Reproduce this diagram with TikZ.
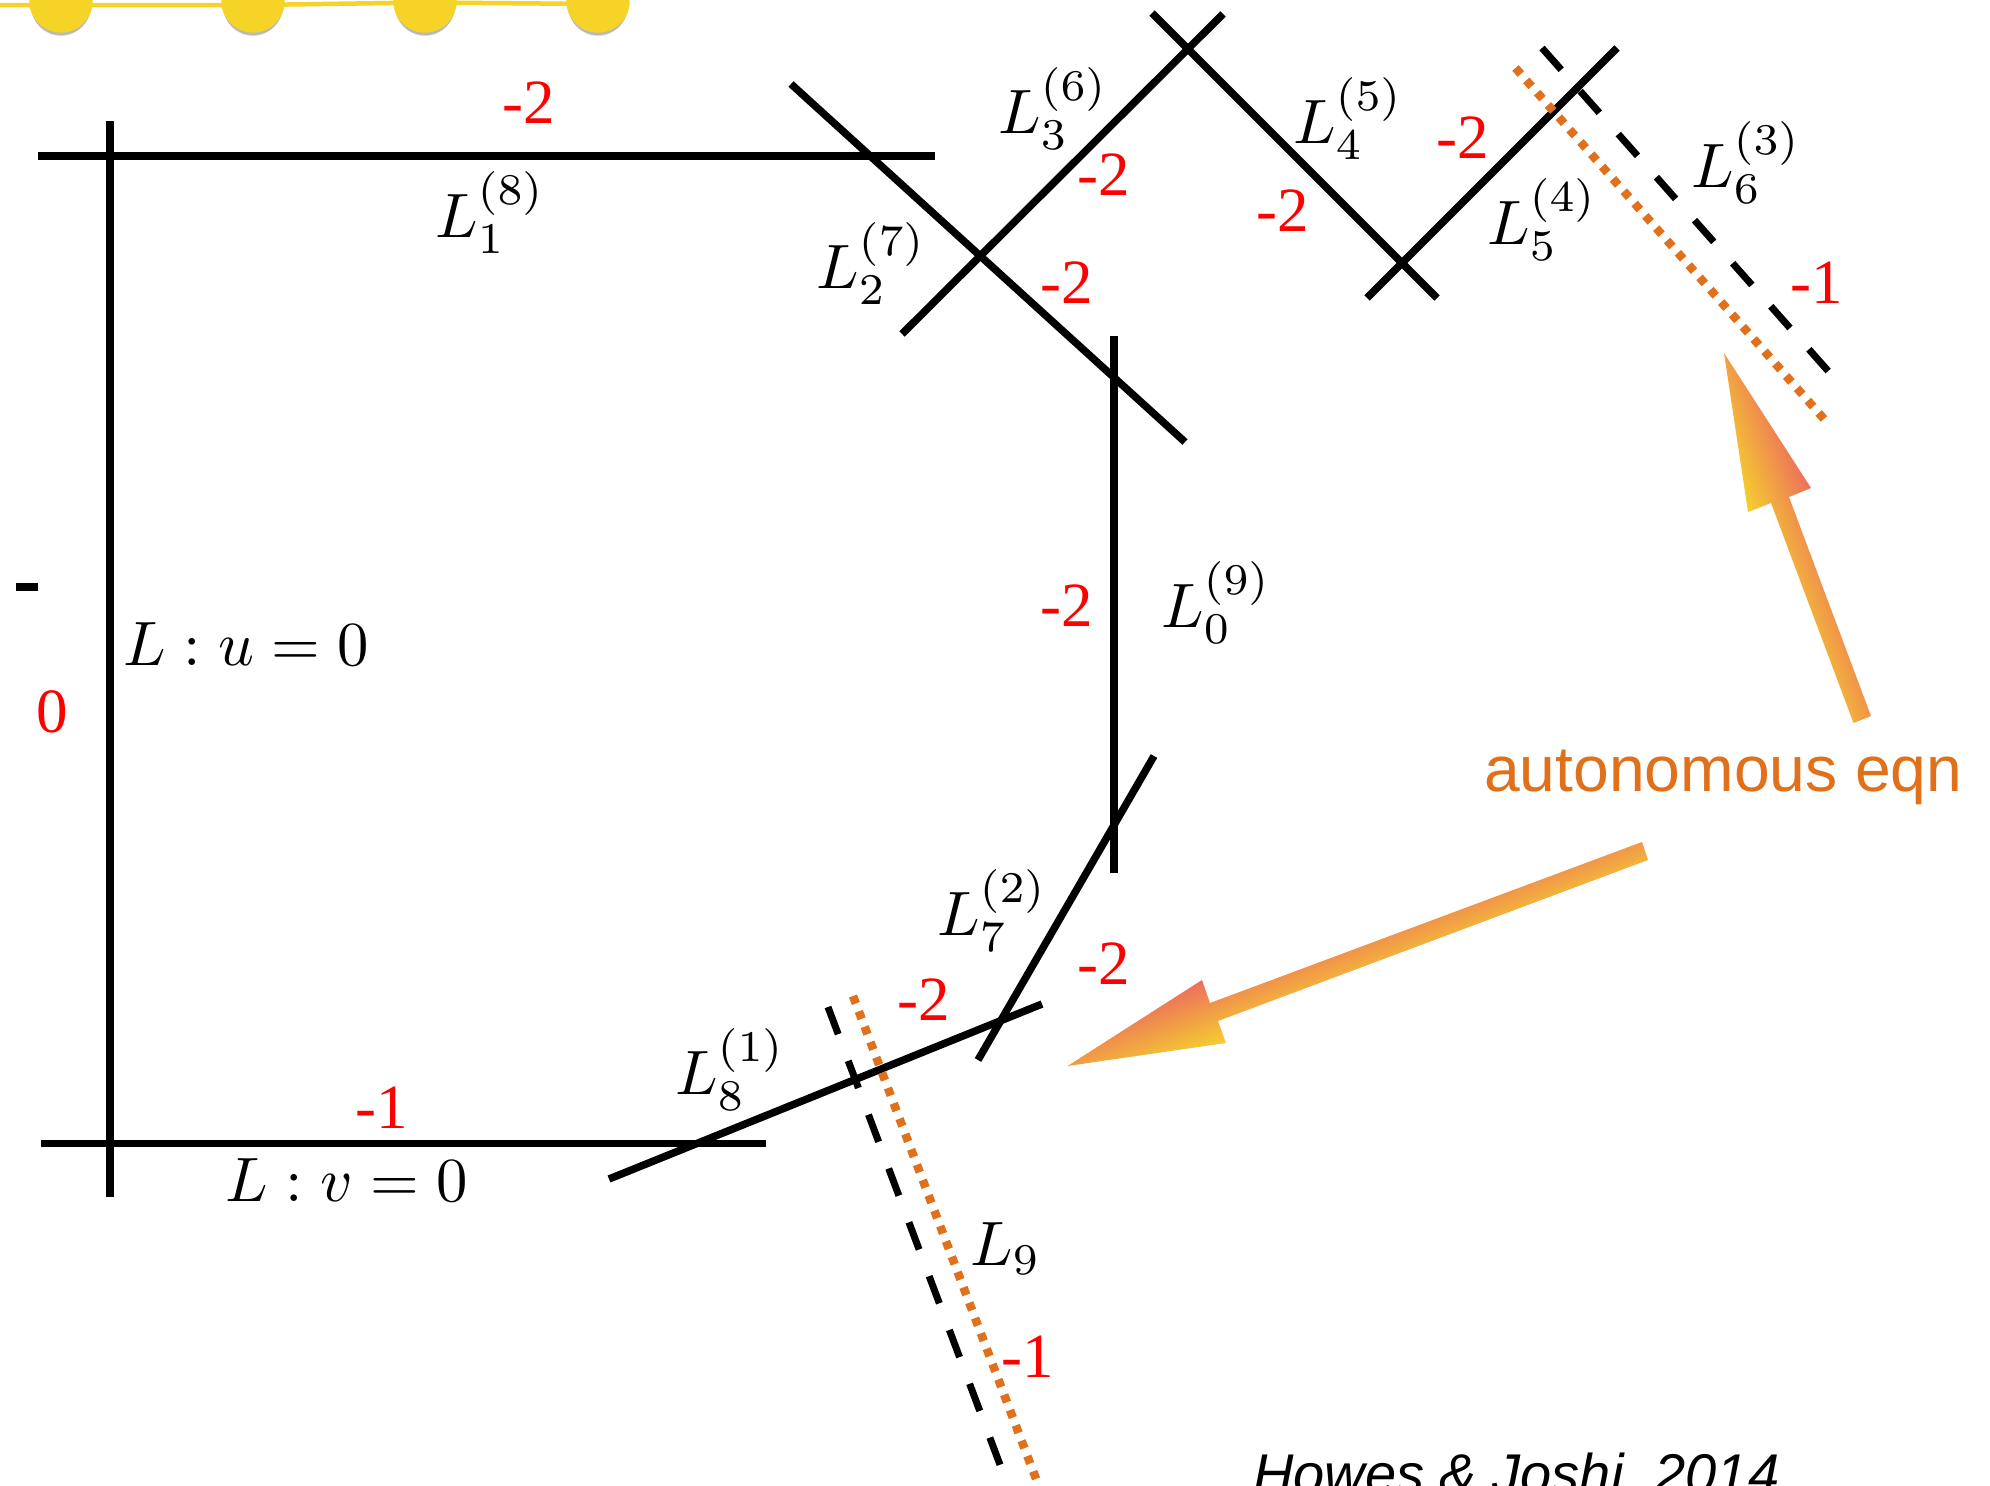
\documentclass[tikz,border=0pt]{standalone}
\usepackage[no-math]{fontspec}
\newfontfamily\numfont{Liberation Serif}
\newfontfamily\labfont{Liberation Sans}
\definecolor{autoorange}{HTML}{E0701A}
\definecolor{beadyellow}{HTML}{F5D327}
\definecolor{gradred}{HTML}{ED6F5C}
\definecolor{gradmid}{HTML}{F09F42}
\definecolor{gradyellow}{HTML}{F5D02E}
\tikzset{
  solidline/.style={line width=7.5pt,black},
  dashline/.style={line width=7pt,black,dash pattern=on 29pt off 28.5pt},
  dotline/.style={line width=8.5pt,autoorange,dash pattern=on 8pt off 8.4pt},
  mathlab/.style={inner sep=0pt,anchor=base west,scale=6.27},
  numlab/.style={inner sep=0pt,anchor=base,text=red,font=\numfont\fontsize{63}{70}\selectfont},
  bead/.style={fill=beadyellow,draw=none},
  beadshadow/.style={fill=black,fill opacity=0.1,draw=none},
}
\begin{document}
\begin{tikzpicture}[x=1pt,y=-1pt]
\clip (0,0) rectangle (1990,1486);
\fill[white] (0,0) rectangle (1990,1486);
% beads
\foreach \bx in {61,253,425,598}{
  \foreach \off/\rr in {5.5/29.5,4.5/30,3.5/30.5}{
    \fill[beadshadow] (\bx,1+\off) circle[radius=\rr];}
}
\draw[beadyellow,line width=4.5pt] (0,5) -- (61,5) -- (253,5) -- (425,2.5) -- (598,4);
\foreach \bx in {61,253,425,598}{\fill[bead] (\bx,1) circle[radius=31.7];}
% solid lines
\draw[solidline] (110,121) -- (110,1197);
\draw[solidline] (38,156) -- (935,156);
\draw[solidline] (41,1143.5) -- (766,1143.5);
\draw[solidline] (791,84) -- (1185,442);
\draw[solidline] (902,334) -- (1223,14);
\draw[solidline] (1152,13) -- (1437,298);
\draw[solidline] (1367,298) -- (1617,48);
\draw[solidline] (1114,336) -- (1114,873);
\draw[solidline] (1154,756) -- (978,1060);
\draw[solidline] (1042,1004) -- (609,1179);
% dashed and dotted
\draw[dashline] (1542,48) -- (1829,372);
\draw[dotline] (1515.5,68) -- (1824,419);
\draw[dashline] (828,1007) -- (1002,1470);
\draw[dotline] (853,996) -- (1038,1484);
% the small dash on the left
\fill[black] (16,583) rectangle (38,591);
% up arrow
\begin{scope}
\clip (1724,353) -- (1811,488) -- (1789,497) -- (1871,716) -- (1853.5,723) -- (1771,503) -- (1748,512) -- cycle;
\begin{scope}[transform canvas={shift={(1779.5,500)},rotate=-69}]
\shade[top color=gradred,middle color=gradmid,bottom color=gradyellow] (-300,-33.7) rectangle (300,33.7);
\end{scope}
\end{scope}
% left arrow
\begin{scope}
\clip (1067.5,1066) -- (1202,980) -- (1210,1003) -- (1642,842) -- (1648,860) -- (1218,1021) -- (1226,1043) -- cycle;
\begin{scope}[transform canvas={shift={(1214,1011.5)},rotate=21}]
\shade[top color=gradred,middle color=gradmid,bottom color=gradyellow] (-500,-33.7) rectangle (500,33.7);
\end{scope}
\end{scope}
% math labels
\node[mathlab] (l1) at (434,237) {$L_1^{(8)}$};
\node[mathlab] (l2) at (815,288) {$L_2^{(7)}$};
\node[mathlab] (l3) at (997,133) {$L_3^{(6)}$};
\node[mathlab] (l4) at (1292,143) {$L_4^{(5)}$};
\node[mathlab] (l5) at (1486,244) {$L_5^{(4)}$};
\node[mathlab] (l6) at (1690,187) {$L_6^{(3)}$};
\node[mathlab] (l0) at (1160,627) {$L_0^{(9)}$};
\node[mathlab] (l7) at (936,935) {$L_7^{(2)}$};
\node[mathlab] (l8) at (674,1094) {$L_8^{(1)}$};
\node[mathlab] (l9) at (969,1265) {$L_9$};
\node[mathlab] (lu) at (122,665) {$L:u=0$};
\node[mathlab] (lv) at (224,1201) {$L:v=0$};
% numbers
\node[numlab] (n1) at (529,123) {-2};
\node[numlab] (n2) at (1104,195) {-2};
\node[numlab] (n3) at (1067,303) {-2};
\node[numlab] (n4) at (1283,231) {-2};
\node[numlab] (n5) at (1463,158) {-2};
\node[numlab] (n6) at (1817,303) {-1};
\node[numlab] (n7) at (1067,626) {-2};
\node[numlab] (n8) at (52,732) {0};
\node[numlab] (n9) at (1104,984) {-2};
\node[numlab] (n10) at (924,1020) {-2};
\node[numlab] (n11) at (382,1128) {-1};
\node[numlab] (n12) at (1028,1377) {-1};
% sans labels
\node[inner sep=0pt,anchor=base west,text=autoorange,font=\labfont\fontsize{64.2}{70}\selectfont] (auto) at (1484,791) {autonomous eqn};
\node[inner sep=0pt,anchor=base west,font=\labfont\itshape\fontsize{56}{60}\selectfont] (cite) at (1253,1493) {Howes \& Joshi, 2014};
\end{tikzpicture}
\end{document}
